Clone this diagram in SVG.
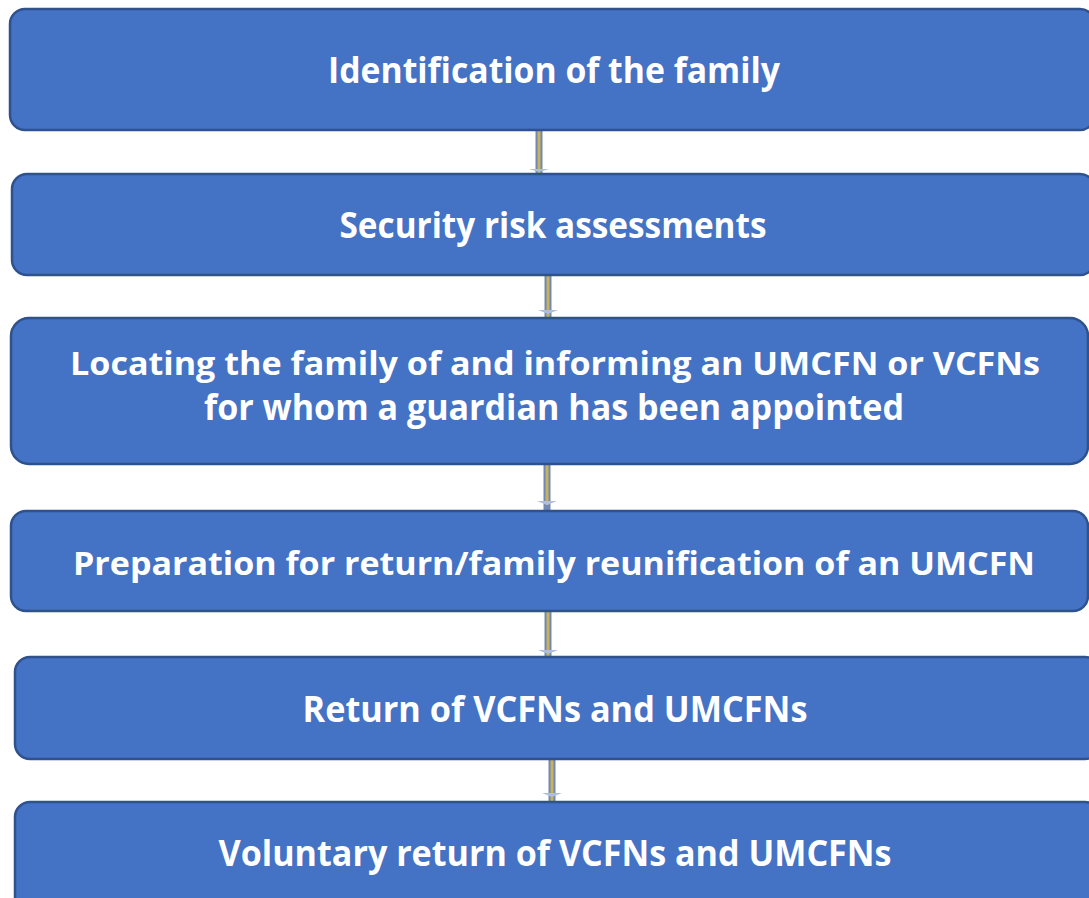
<svg xmlns="http://www.w3.org/2000/svg" width="1089" height="898" viewBox="0 0 1089 898">
<defs>
<style>
.box{fill:#4472C4;stroke:#2F528F;stroke-width:2.5}
.t{fill:#FFFFFF;font-family:"Open Sans","Liberation Sans",sans-serif;font-weight:700;font-size:36px;text-anchor:middle}
.s{font-size:33px}
.co{stroke:#7088B4;stroke-width:7;fill:none}
.ci{stroke:#C9B15E;stroke-width:3;fill:none}
.ah{fill:#AFBEDA}
</style>
</defs>
<rect width="1089" height="898" fill="#FFFFFF"/>
<g id="connectors">
<g><line class="co" x1="539" y1="130" x2="539" y2="173"/><line class="ci" x1="539" y1="130" x2="539" y2="173"/><polygon class="ah" points="529,169 549,169 539,172"/></g>
<g><line class="co" x1="548" y1="275" x2="548" y2="318"/><line class="ci" x1="548" y1="275" x2="548" y2="318"/><polygon class="ah" points="538,310 558,310 548,314"/></g>
<g><line class="co" x1="547" y1="464" x2="547" y2="511"/><line class="ci" x1="547" y1="464" x2="547" y2="505"/><polygon class="ah" points="537,501 557,501 547,505"/></g>
<g><line class="co" x1="548" y1="611" x2="548" y2="657"/><line class="ci" x1="548" y1="611" x2="548" y2="657"/><polygon class="ah" points="538,650 558,650 548,654"/></g>
<g><line class="co" x1="552" y1="759" x2="552" y2="802"/><line class="ci" x1="552" y1="759" x2="552" y2="802"/><polygon class="ah" points="542,793 562,793 552,797"/></g>
</g>
<g id="n1"><rect class="box" x="10" y="9" width="1085" height="121" rx="15"/><text class="t" x="554" y="83" textLength="452" lengthAdjust="spacingAndGlyphs">Identification of the family</text></g>
<g id="n2"><rect class="box" x="12" y="174" width="1083" height="101" rx="15"/><text class="t" x="553" y="238" textLength="427" lengthAdjust="spacingAndGlyphs">Security risk assessments</text></g>
<g id="n3"><rect class="box" x="11" y="318" width="1077" height="146" rx="18"/><text class="t s" x="555" y="375" textLength="970" lengthAdjust="spacingAndGlyphs">Locating the family of and informing an UMCFN or VCFNs</text><text class="t" x="554" y="420" textLength="700" lengthAdjust="spacingAndGlyphs">for whom a guardian has been appointed</text></g>
<g id="n4"><rect class="box" x="11" y="511" width="1077" height="100" rx="15"/><text class="t s" x="554" y="575" textLength="962" lengthAdjust="spacingAndGlyphs">Preparation for return/family reunification of an UMCFN</text></g>
<g id="n5"><rect class="box" x="15" y="657" width="1085" height="102" rx="15"/><text class="t" x="555" y="722" textLength="505" lengthAdjust="spacingAndGlyphs">Return of VCFNs and UMCFNs</text></g>
<g id="n6"><rect class="box" x="15" y="802" width="1085" height="115" rx="15"/><text class="t" x="555" y="866" textLength="673" lengthAdjust="spacingAndGlyphs">Voluntary return of VCFNs and UMCFNs</text></g>
</svg>
